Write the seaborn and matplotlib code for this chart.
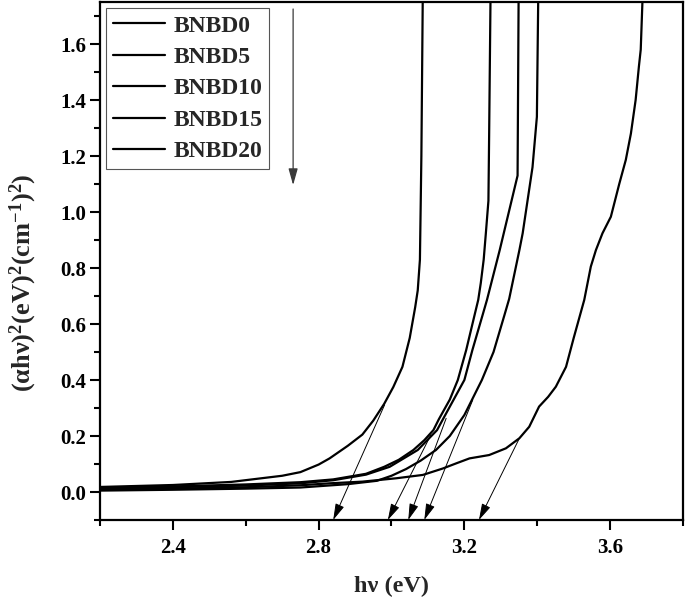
import numpy as np
import pandas as pd
import matplotlib
import matplotlib.pyplot as plt
import seaborn as sns
from matplotlib.ticker import MultipleLocator

# photon energy (eV) and (alpha*h*nu)^2
samples = ['BNBD0', 'BNBD5', 'BNBD10', 'BNBD15', 'BNBD20']

hv_bnbd0 = [2.20, 2.40, 2.56, 2.70, 2.75, 2.80, 2.83, 2.88, 2.92, 2.95, 2.98, 3.005,
            3.03, 3.05, 3.065, 3.072, 3.078, 3.082, 3.086]
ahv_bnbd0 = [0.018, 0.025, 0.036, 0.058, 0.071, 0.098, 0.12, 0.165, 0.205, 0.255,
             0.315, 0.375, 0.447, 0.55, 0.66, 0.72, 0.83, 1.2, 1.8]

hv_bnbd5 = [2.20, 2.40, 2.60, 2.75, 2.84, 2.93, 2.98, 3.02, 3.06, 3.09, 3.115,
            3.13, 3.16, 3.182, 3.205, 3.228, 3.238, 3.245, 3.253, 3.259, 3.266,
            3.268, 3.272]
ahv_bnbd5 = [0.016, 0.020, 0.027, 0.035, 0.045, 0.065, 0.09, 0.115, 0.15, 0.185,
             0.221, 0.26, 0.33, 0.40, 0.507, 0.632, 0.686, 0.746, 0.83, 0.925,
             1.04, 1.28, 1.8]

hv_bnbd10 = [2.20, 2.40, 2.60, 2.75, 2.84, 2.93, 2.995, 3.072, 3.125, 3.145,
             3.20, 3.222, 3.25, 3.262, 3.297, 3.346, 3.349]
ahv_bnbd10 = [0.013, 0.017, 0.023, 0.031, 0.042, 0.062, 0.09, 0.15, 0.221, 0.269,
              0.40, 0.507, 0.632, 0.686, 0.864, 1.13, 1.8]

hv_bnbd15 = [2.20, 2.40, 2.60, 2.75, 2.88, 2.96, 3.00, 3.04, 3.08, 3.122, 3.16,
             3.20, 3.248, 3.28, 3.31, 3.323, 3.351, 3.36, 3.387, 3.399, 3.403]
ahv_bnbd15 = [0.005, 0.008, 0.012, 0.016, 0.028, 0.040, 0.058, 0.082, 0.112, 0.15,
              0.20, 0.275, 0.40, 0.50, 0.632, 0.69, 0.864, 0.924, 1.16, 1.34, 1.8]

hv_bnbd20 = [2.20, 2.40, 2.60, 2.75, 2.83, 2.92, 3.013, 3.086, 3.141, 3.177,
             3.214, 3.232, 3.268, 3.314, 3.351, 3.378, 3.405, 3.43, 3.451, 3.479,
             3.50, 3.529, 3.547, 3.561, 3.579, 3.602, 3.625, 3.643, 3.657, 3.670,
             3.679, 3.684, 3.690]
ahv_bnbd20 = [0.008, 0.012, 0.017, 0.024, 0.031, 0.037, 0.049, 0.061, 0.084, 0.102,
              0.12, 0.124, 0.132, 0.156, 0.192, 0.233, 0.305, 0.34, 0.376, 0.447,
              0.55, 0.686, 0.805, 0.864, 0.924, 0.983, 1.10, 1.186, 1.28, 1.40,
              1.52, 1.58, 1.8]

# linear-region extrapolations: start point on curve and band gap (x-intercept)
tan_hv = [2.981, 3.108, 3.150, 3.223, 3.351]
tan_ahv = [0.311, 0.204, 0.263, 0.329, 0.192]
band_gap = [2.84, 2.99, 3.046, 3.09, 3.24]

hv_all = [hv_bnbd0, hv_bnbd5, hv_bnbd10, hv_bnbd15, hv_bnbd20]
ahv_all = [ahv_bnbd0, ahv_bnbd5, ahv_bnbd10, ahv_bnbd15, ahv_bnbd20]

frames = []
for name, xs, ys in zip(samples, hv_all, ahv_all):
    frames.append(pd.DataFrame({'hv': xs, 'ahv2': ys, 'sample': name}))
df = pd.concat(frames, ignore_index=True)

sns.set_style('ticks')
plt.rcParams['font.family'] = ['Liberation Serif', 'DejaVu Serif']
plt.rcParams['font.weight'] = 'bold'
plt.rcParams['axes.labelweight'] = 'bold'
plt.rcParams['mathtext.fontset'] = 'custom'
plt.rcParams['mathtext.rm'] = 'Liberation Serif:bold'
plt.rcParams['mathtext.bf'] = 'Liberation Serif:bold'
plt.rcParams['mathtext.it'] = 'Liberation Serif:italic:bold'

fig, ax = plt.subplots(figsize=(6.85, 6.0), dpi=100)
ax.set_position([100 / 685, 80 / 600, 583 / 685, 518 / 600])

sns.lineplot(data=df, x='hv', y='ahv2', hue='sample', hue_order=samples,
             palette=['black'] * 5, estimator=None, sort=False,
             linewidth=1.6, ax=ax)

arrow_style = '-|>,head_length=1.0,head_width=0.28'

# tangent arrows down to the energy axis
for x0, y0, eg in zip(tan_hv, tan_ahv, band_gap):
    ax.annotate('', xy=(eg, -0.1), xytext=(x0, y0), annotation_clip=False,
                arrowprops=dict(arrowstyle=arrow_style, color='black', lw=0.7,
                                shrinkA=0, shrinkB=0, mutation_scale=10))

# arrow next to the legend
ax.annotate('', xy=(2.73, 1.096), xytext=(2.73, 1.725),
            arrowprops=dict(arrowstyle=arrow_style, color='#3a3a3a', lw=0.9,
                            shrinkA=0, shrinkB=0, mutation_scale=10))

ax.set_xticks([2.4, 2.8, 3.2, 3.6])
ax.set_yticks(np.round(np.arange(0.0, 1.61, 0.2), 1))
ax.xaxis.set_minor_locator(MultipleLocator(0.2))
ax.yaxis.set_minor_locator(MultipleLocator(0.1))
ax.set_xlim(2.2, 3.8)
ax.set_ylim(-0.1, 1.75)

ax.tick_params(which='major', direction='out', length=7, width=1.5,
               labelsize=15, color='black', labelcolor='black')
ax.tick_params(axis='x', which='major', pad=6)
ax.tick_params(axis='y', which='major', pad=3)
ax.tick_params(which='minor', direction='out', length=4.5, width=1.5,
               color='black')
for s in ax.spines.values():
    s.set_linewidth(1.6)
    s.set_color('black')

ax.set_xlabel('h\u03bd (eV)', fontsize=17.5)
ax.set_ylabel('(\u03b1h\u03bd)$^{\\mathbf{2}}$(eV)$^{\\mathbf{2}}$'
              '(cm$^{\\mathbf{-1}}$)$^{\\mathbf{2}}$)', fontsize=19)
ax.xaxis.set_label_coords(0.5, -0.108)
ax.yaxis.set_label_coords(-0.105, 0.459)

handles, labels = ax.get_legend_handles_labels()
leg = ax.legend(handles, labels, loc='upper left', fontsize=17,
                frameon=True, fancybox=False, framealpha=1,
                edgecolor='#555555', borderaxespad=0.25, borderpad=0.3,
                handlelength=2.2, handletextpad=0.35, labelspacing=0.42)
leg.get_frame().set_linewidth(0.8)
for line in leg.get_lines():
    line.set_linewidth(1.6)

fig.savefig('out.png', dpi=100)
